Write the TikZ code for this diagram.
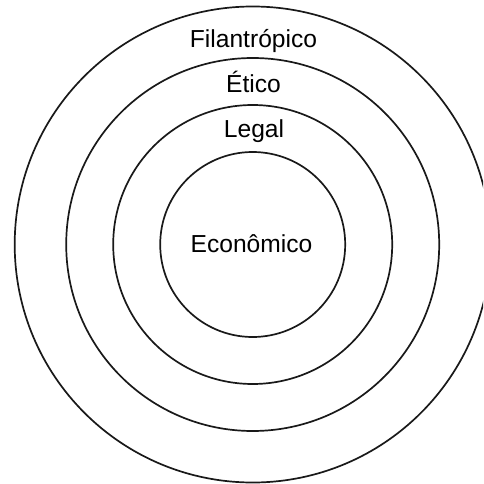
\documentclass[tikz,border=0pt]{standalone}
\usepackage{fontspec}
\setmainfont{Liberation Sans}
\begin{document}
\begin{tikzpicture}[x=1pt,y=-1pt,
  ring/.style={draw=black!90, line width=1.7pt},
  lbl/.style={anchor=base, inner sep=0pt, font=\fontsize{24.6pt}{28pt}\selectfont}]
\useasboundingbox (0,0) rectangle (483,484);
\clip (0,0) rectangle (483,484);
\coordinate (c) at (252.7,244.5);
\draw[ring] (c) circle[radius=238];
\draw[ring] (c) circle[radius=186.5];
\draw[ring] (c) circle[radius=139.5];
\draw[ring] (c) circle[radius=92.5];
\node[lbl] (fil) at (253.5,48) {Filantrópico};
\node[lbl] (eti) at (253.5,92.5) {Ético};
\node[lbl] (leg) at (254,137.5) {Legal};
\node[lbl] (eco) at (251.5,252) {Econômico};
\end{tikzpicture}
\end{document}
